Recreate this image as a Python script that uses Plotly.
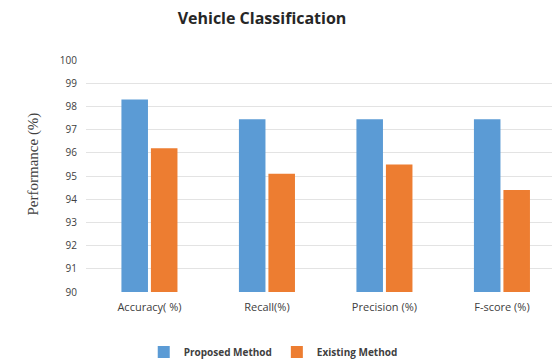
import plotly.graph_objects as go

categories = ["Accuracy( %)", "Recall(%)", "Precision (%)", "F-score (%)"]
proposed = [98.3, 97.45, 97.45, 97.45]
existing = [96.2, 95.1, 95.5, 94.4]
series_names = ["Proposed Method", "Existing Method"]
y_ticks = list(range(90, 101))

fig = go.Figure()
fig.add_trace(go.Bar(x=categories, y=proposed, name=series_names[0],
                     marker=dict(color="#5B9BD5", line=dict(width=0))))
fig.add_trace(go.Bar(x=categories, y=existing, name=series_names[1],
                     marker=dict(color="#ED7D31", line=dict(width=0))))

fig.update_layout(
    width=552, height=362,
    margin=dict(l=86, r=0, t=60, b=70),
    paper_bgcolor="white", plot_bgcolor="white",
    barmode="group", bargap=0.498, bargroupgap=0.10,
    title=dict(text="<b>Vehicle Classification</b>", x=262 / 552, xref="container",
               y=1 - 18 / 362, yref="container", yanchor="middle", xanchor="center",
               font=dict(family="Open Sans", size=16, color="#262626")),
    font=dict(family="Open Sans", size=10, color="#404040"),
    legend=dict(orientation="h", xref="container", yref="container",
                x=0.495, xanchor="center", y=1 - 352 / 362, yanchor="middle",
                font=dict(family="Open Sans", size=10, color="#404040", weight="bold"),
                itemwidth=30, tracegroupgap=0),
    showlegend=True,
)
fig.update_xaxes(range=[-0.540, 3.426], showgrid=False, showline=False,
                 ticks="", ticklabelstandoff=7,
                 tickfont=dict(size=11, color="#404040"))
fig.update_yaxes(range=[90, 100], tickvals=y_ticks, showgrid=True,
                 gridcolor="#E3E3E3", gridwidth=1, zeroline=False, showline=False,
                 ticks="", ticklabelstandoff=8,
                 tickfont=dict(size=10, color="#404040"))
fig.add_annotation(text="Performance (%)", textangle=-90, xref="paper", yref="paper",
                   x=(22 - 86) / 466, y=(292 - 164) / 232, showarrow=False,
                   font=dict(family="Liberation Serif", size=15, color="#404040"))

fig.write_html("out.html")
